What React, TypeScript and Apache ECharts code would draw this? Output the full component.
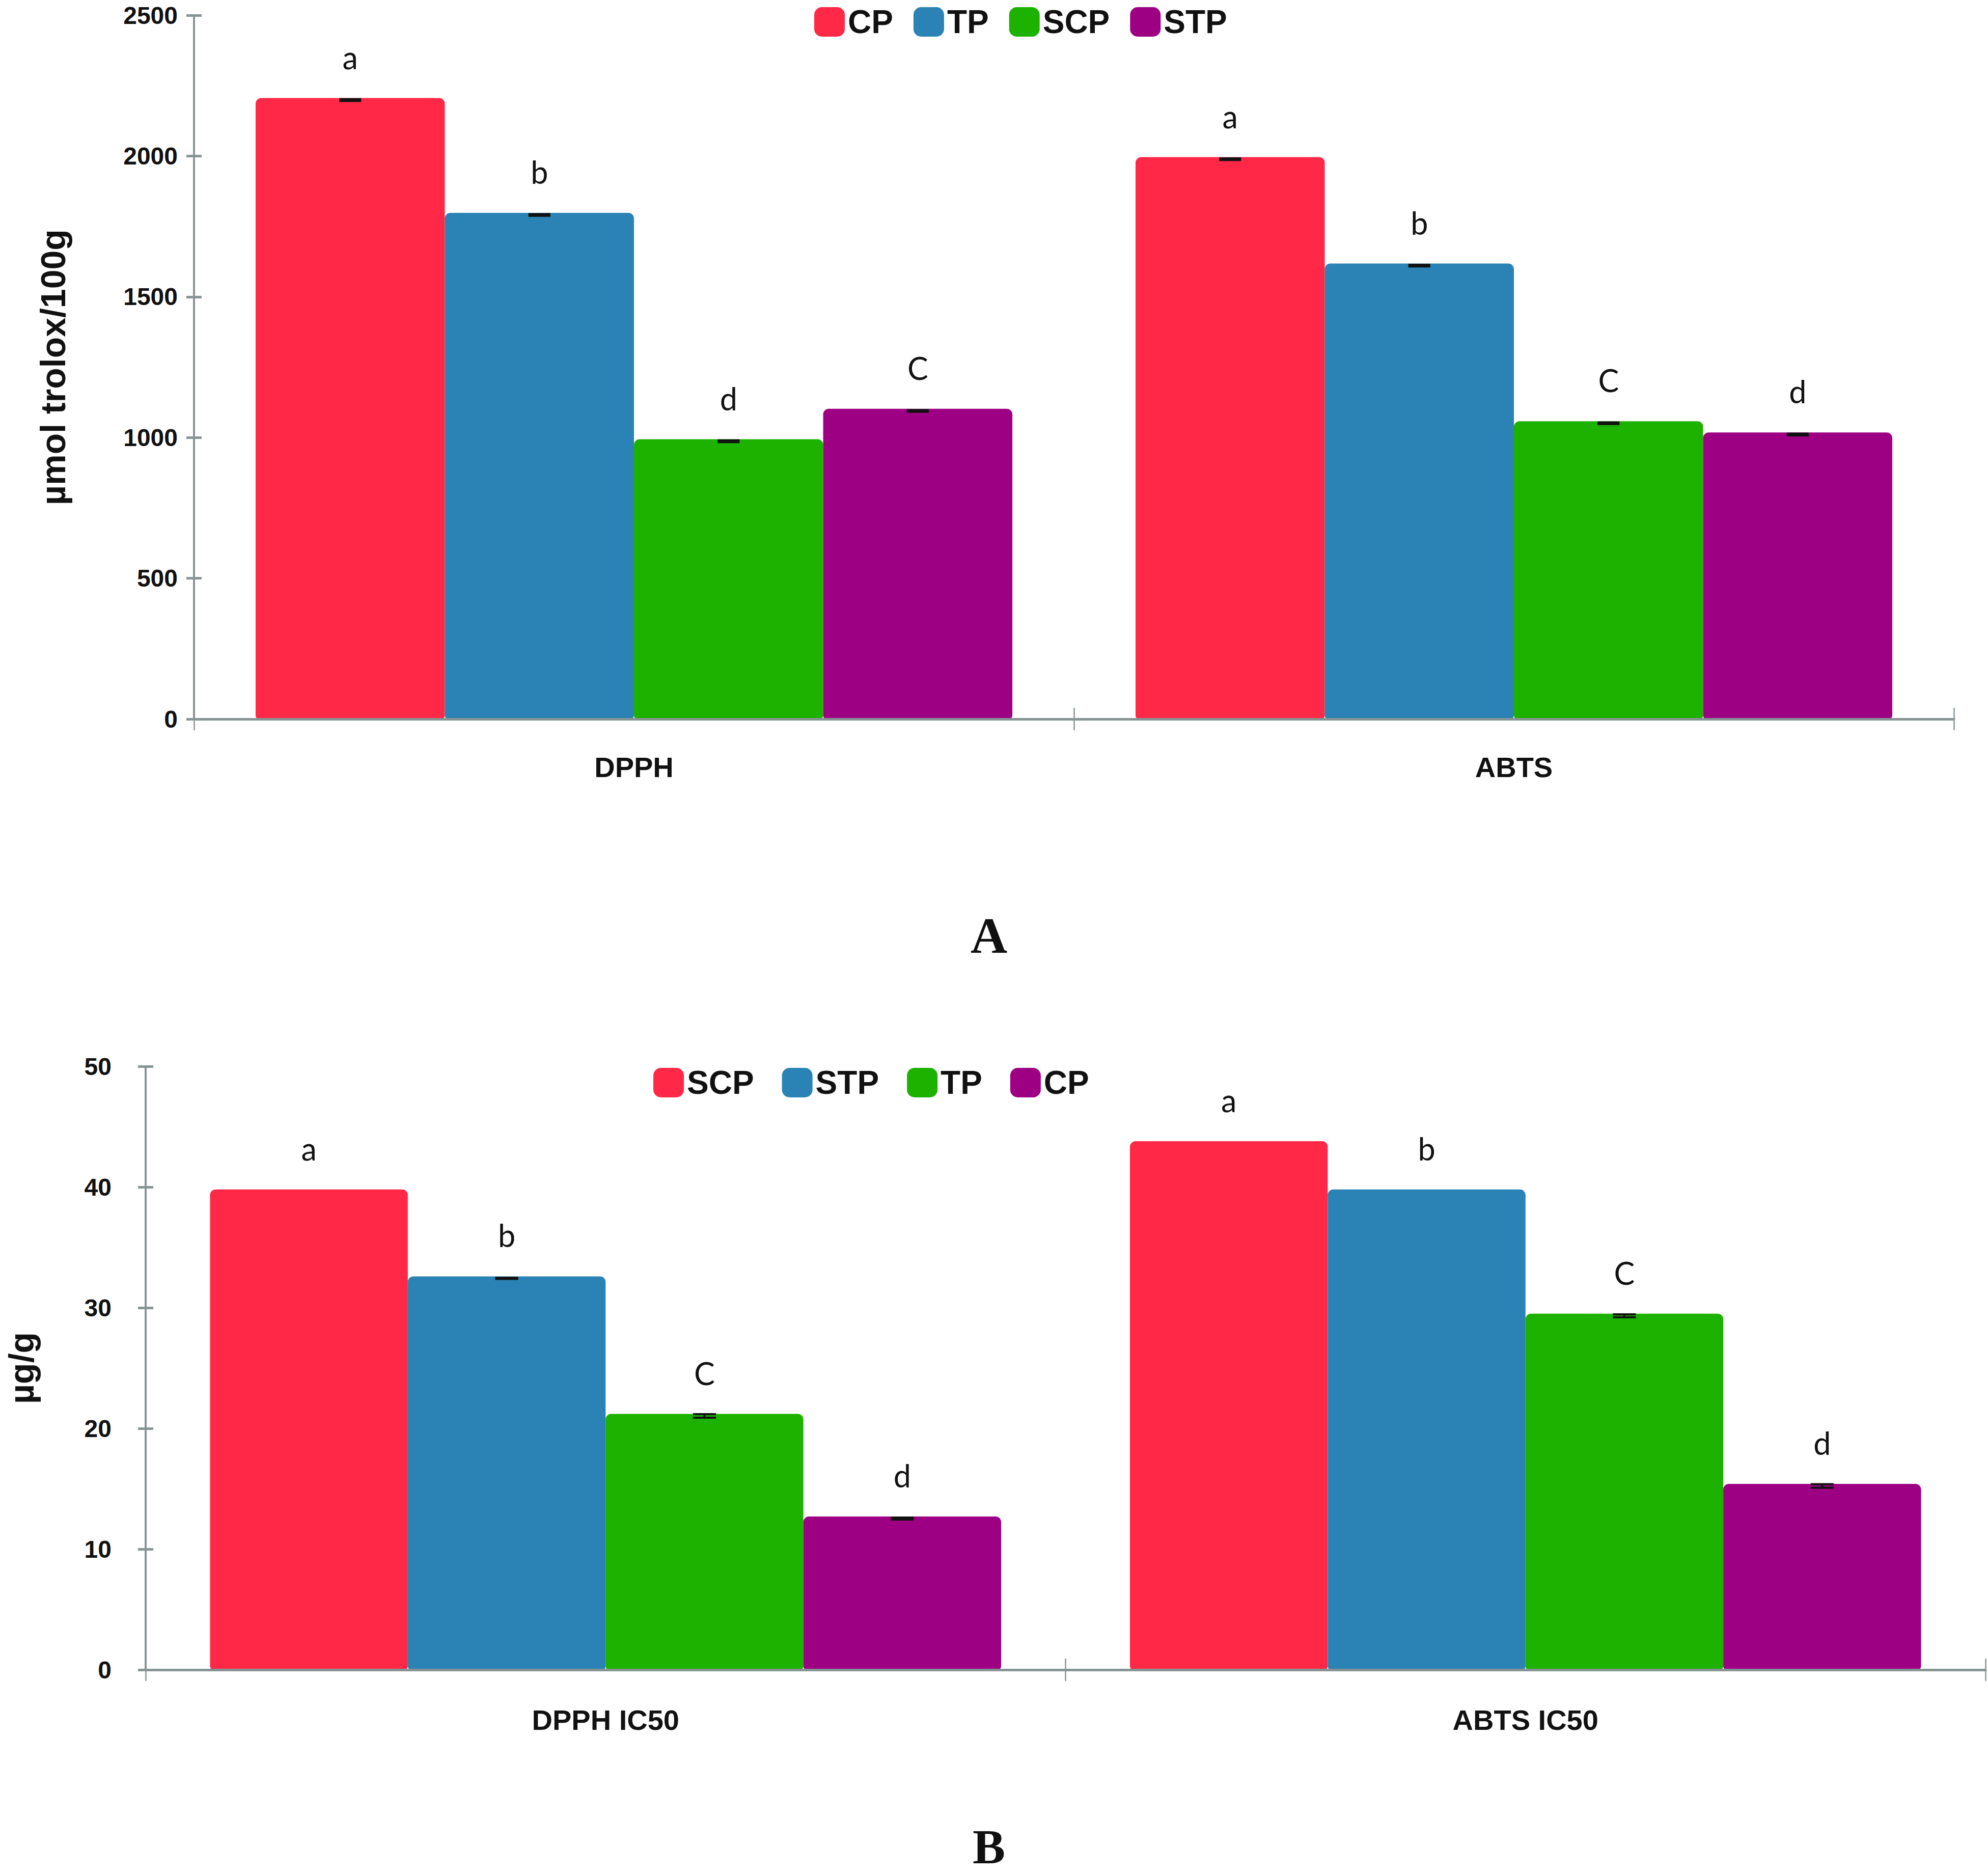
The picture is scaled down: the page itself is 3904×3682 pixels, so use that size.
import React, { useEffect, useRef } from "react";
import * as echarts from "echarts";

// ---- Panel A data ----
const topCategories = ["DPPH", "ABTS"];
const topSeriesNames = ["CP", "TP", "SCP", "STP"];
const topCP = [2206, 1996];
const topTP = [1798, 1618];
const topSCP = [994, 1058];
const topSTP = [1102, 1018];
const topErrCP = [3, 3];
const topErrTP = [3, 3];
const topErrSCP = [3, 3];
const topErrSTP = [3, 3];
const topLettersCP = ["a", "a"];
const topLettersTP = ["b", "b"];
const topLettersSCP = ["d", "C"];
const topLettersSTP = ["C", "d"];
const topYTicks = { min: 0, max: 2500, interval: 500 };

// ---- Panel B data ----
const botCategories = ["DPPH IC50", "ABTS IC50"];
const botSeriesNames = ["SCP", "STP", "TP", "CP"];
const botSCP = [39.8, 43.8];
const botSTP = [32.6, 39.8];
const botTP = [21.2, 29.5];
const botCP = [12.7, 15.4];
const botErrSCP = [0, 0];
const botErrSTP = [0.05, 0];
const botErrTP = [0.15, 0.12];
const botErrCP = [0.08, 0.15];
const botLettersSCP = ["a", "a"];
const botLettersSTP = ["b", "b"];
const botLettersTP = ["C", "C"];
const botLettersCP = ["d", "d"];
const botYTicks = { min: 0, max: 50, interval: 10 };

const COLORS = ["#FF2846", "#2A83B4", "#1DB100", "#9D0083"];
const AXIS = "#879494";
const SANS = "'Liberation Sans', Arial, sans-serif";
const LETTER_FONT = "Lato, 'Open Sans', sans-serif";
const CAT_GAP = 0.14;

function errorSeries(xIdx: number, yIdx: number, vals: number[][], errs: number[][]) {
  const data: number[][] = [];
  vals.forEach((arr, si) =>
    arr.forEach((v, ci) => {
      if (errs[si][ci] > 0) data.push([ci, si, v, errs[si][ci]]);
    })
  );
  return {
    type: "custom",
    xAxisIndex: xIdx,
    yAxisIndex: yIdx,
    z: 6,
    silent: true,
    data,
    renderItem: (params: any, api: any) => {
      const ci = api.value(0);
      const si = api.value(1);
      const v = api.value(2);
      const e = api.value(3);
      const band = api.size([1, 0])[0];
      const barW = (band * (1 - CAT_GAP)) / 4;
      const cx = api.coord([ci, v])[0] + (si - 1.5) * barW;
      const yT = api.coord([ci, v + e])[1] + 4;
      const yB = api.coord([ci, v - e])[1] + 4;
      const hw = barW * 0.058;
      const st = { stroke: "#111111", lineWidth: 4 };
      return {
        type: "group",
        children: [
          { type: "line", shape: { x1: cx, y1: yT, x2: cx, y2: yB }, style: st },
          { type: "line", shape: { x1: cx - hw, y1: yT, x2: cx + hw, y2: yT }, style: st },
          { type: "line", shape: { x1: cx - hw, y1: yB, x2: cx + hw, y2: yB }, style: st },
        ],
      };
    },
  };
}

function barSeries(name: string, data: number[], letters: string[], color: string, xIdx: number, yIdx: number) {
  return {
    type: "bar",
    name,
    xAxisIndex: xIdx,
    yAxisIndex: yIdx,
    data,
    barGap: "0%",
    barCategoryGap: CAT_GAP * 100 + "%",
    itemStyle: { color, borderColor: color, borderWidth: 10, borderRadius: [6, 6, 2, 2] },
    label: {
      show: true,
      position: "top",
      distance: 50,
      formatter: (p: any) => letters[p.dataIndex],
      fontFamily: LETTER_FONT,
      fontSize: 61,
      color: "#111111",
    },
  };
}

function xAxes(grid: number, cats: string[], labelMargin: number) {
  return [
    {
      gridIndex: grid,
      type: "category",
      data: cats,
      position: "bottom",
      z: 5,
      axisLine: { show: true, lineStyle: { color: AXIS, width: 5 } },
      axisTick: { show: true, length: 22, lineStyle: { color: AXIS, width: 2.5 } },
      axisLabel: { margin: labelMargin, fontFamily: SANS, fontWeight: "bold", fontSize: 56, color: "#111111" },
    },
    {
      gridIndex: grid,
      type: "category",
      data: cats,
      position: "bottom",
      z: 5,
      axisLine: { show: false },
      axisTick: { show: true, inside: true, length: 22, lineStyle: { color: AXIS, width: 2.5 } },
      axisLabel: { show: false },
    },
  ];
}

function yAxes(grid: number, t: { min: number; max: number; interval: number }, name: string, nameGap: number, labelMargin: number) {
  return [
    {
      gridIndex: grid,
      type: "value",
      min: t.min,
      max: t.max,
      interval: t.interval,
      z: 5,
      name,
      nameLocation: "middle",
      nameGap,
      nameRotate: 90,
      nameTextStyle: { fontFamily: SANS, fontWeight: "bold", fontSize: 68, color: "#111111" },
      splitLine: { show: false },
      axisLine: { show: true, lineStyle: { color: AXIS, width: 4 } },
      axisTick: { show: true, length: 15, lineStyle: { color: AXIS, width: 5 } },
      axisLabel: {
        margin: labelMargin,
        fontFamily: SANS,
        fontWeight: "bold",
        fontSize: 48,
        lineHeight: 42,
        color: "#111111",
        formatter: (v: number) => String(v),
      },
    },
    {
      gridIndex: grid,
      type: "value",
      min: t.min,
      max: t.max,
      interval: t.interval,
      position: "left",
      z: 5,
      splitLine: { show: false },
      axisLine: { show: false },
      axisTick: { show: true, inside: true, length: 15, lineStyle: { color: AXIS, width: 5 } },
      axisLabel: { show: false },
    },
  ];
}

export default function App() {
  const ref = useRef<HTMLDivElement>(null);
  useEffect(() => {
    document.body.style.margin = "0";
    if (!ref.current) return;
    const chart = echarts.init(ref.current, undefined, { renderer: "svg" });

    const topVals = [topCP, topTP, topSCP, topSTP];
    const topErrs = [topErrCP, topErrTP, topErrSCP, topErrSTP];
    const topLet = [topLettersCP, topLettersTP, topLettersSCP, topLettersSTP];
    const botVals = [botSCP, botSTP, botTP, botCP];
    const botErrs = [botErrSCP, botErrSTP, botErrTP, botErrCP];
    const botLet = [botLettersSCP, botLettersSTP, botLettersTP, botLettersCP];

    const series: any[] = [];
    topSeriesNames.forEach((n, i) => series.push(barSeries(n, topVals[i], topLet[i], COLORS[i], 0, 0)));
    botSeriesNames.forEach((n, i) => series.push(barSeries(n + " B", botVals[i], botLet[i], COLORS[i], 2, 2)));
    series.push(errorSeries(0, 0, topVals, topErrs));
    series.push(errorSeries(2, 2, botVals, botErrs));

    const legendCommon = {
      orient: "horizontal",
      itemWidth: 58,
      itemHeight: 56,
      icon: "roundRect",
      selectedMode: false,
      textStyle: { fontFamily: SANS, fontWeight: "bold", fontSize: 64, color: "#111111", padding: [0, 0, 0, 2] },
      formatter: (n: string) => n.replace(/ B$/, ""),
    };

    const serif = "'Liberation Serif', 'DejaVu Serif', serif";

    chart.setOption({
      animation: false,
      backgroundColor: "#ffffff",
      legend: [
        { ...legendCommon, itemGap: 40, left: 1594, top: 6, data: topSeriesNames },
        { ...legendCommon, itemGap: 55, left: 1278, top: 2089, data: botSeriesNames.map((n) => n + " B") },
      ],
      grid: [
        { left: 381, right: 67, top: 30, height: 1382 },
        { left: 281, right: 5, top: 2094, height: 1185 },
      ],
      xAxis: [...xAxes(0, topCategories, 66), ...xAxes(1, botCategories, 70)],
      yAxis: [
        ...yAxes(0, topYTicks, "µmol trolox/100g", 243, 32),
        ...yAxes(1, botYTicks, "µg/g", 210, 67),
      ],
      series,
      graphic: [
        {
          type: "text",
          x: 1942,
          y: 1837,
          style: { text: "A", fontFamily: serif, fontWeight: "bold", fontSize: 100, lineHeight: 84, fill: "#111111", align: "center", verticalAlign: "middle" },
        },
        {
          type: "text",
          x: 1942,
          y: 3626,
          style: { text: "B", fontFamily: serif, fontWeight: "bold", fontSize: 96, lineHeight: 80, fill: "#111111", align: "center", verticalAlign: "middle" },
        },
      ],
    });
    return () => chart.dispose();
  }, []);
  return <div ref={ref} style={{ width: 3904, height: 3682 }} />;
}
